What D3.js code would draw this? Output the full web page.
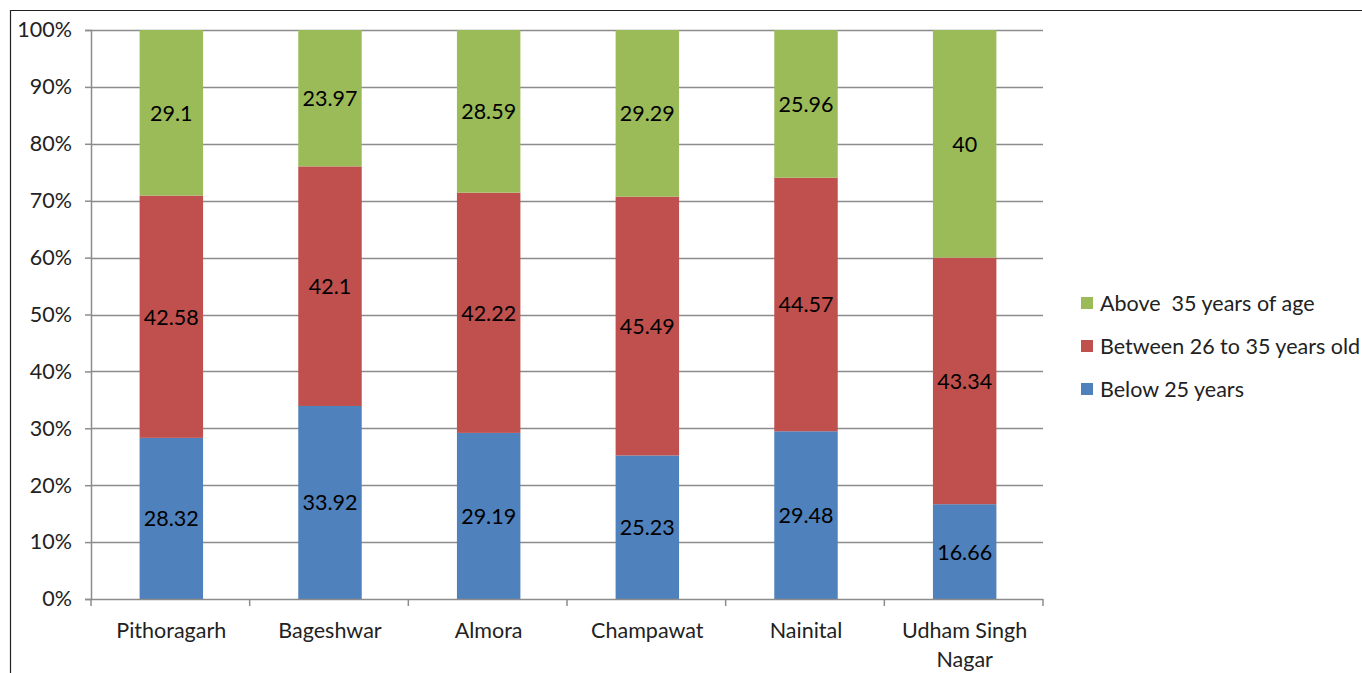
<!DOCTYPE html>
<html><head><meta charset="utf-8">
<script src="https://cdn.jsdelivr.net/npm/d3@7"></script>
<style>body{margin:0;background:#fff;}svg{display:block;font-family:Lato,"Open Sans",sans-serif;}text{white-space:pre;}</style>
</head><body>
<script>
const categories = ["Pithoragarh","Bageshwar","Almora","Champawat","Nainital","Udham Singh Nagar"];
const seriesNames = ["Below 25 years","Between 26 to 35 years old","Above  35 years of age"];
const below25 = [28.32,33.92,29.19,25.23,29.48,16.66];
const between26to35 = [42.58,42.1,42.22,45.49,44.57,43.34];
const above35 = [29.1,23.97,28.59,29.29,25.96,40];
const yTicks = [0,0.1,0.2,0.3,0.4,0.5,0.6,0.7,0.8,0.9,1];
const colors = ["#4F81BD","#C0504D","#9BBB59"];
const FS = 21.5;

const W=1362,H=673;
const svg=d3.select("body").append("svg").attr("width",W).attr("height",H);
svg.append("path").attr("d","M10.5,"+H+" V10.5 H"+W).attr("fill","none").attr("stroke","#222").attr("stroke-width",1.2);

const x=d3.scaleBand().domain(categories).range([91,1043]).paddingInner(0.6).paddingOuter(0.3);
const y=d3.scaleLinear().domain([0,1]).range([599,30]);

svg.append("g").selectAll("line").data(yTicks.slice(1)).join("line")
 .attr("x1",91).attr("x2",1043).attr("y1",d=>Math.round(y(d))+0.5).attr("y2",d=>Math.round(y(d))+0.5)
 .attr("stroke","#8c8c8c").attr("stroke-width",1.5);

const rows=categories.map((c,i)=>({cat:c,vals:[below25[i],between26to35[i],above35[i]]}));
const stackData=rows.map(r=>{const tot=d3.sum(r.vals);let acc=0;return r.vals.map((v,k)=>{const s={cat:r.cat,k,v,y0:acc/tot,y1:(acc+v)/tot};acc+=v;return s;});}).flat();

svg.append("g").selectAll("rect").data(stackData).join("rect")
 .attr("x",d=>x(d.cat)+1).attr("width",x.bandwidth())
 .attr("y",d=>y(d.y1)).attr("height",d=>y(d.y0)-y(d.y1))
 .attr("fill",d=>colors[d.k]);

svg.append("g").selectAll("text").data(stackData).join("text")
 .attr("x",d=>x(d.cat)+1+x.bandwidth()/2).attr("y",d=>y((d.y0+d.y1)/2))
 .attr("text-anchor","middle").attr("dominant-baseline","central")
 .attr("font-size",FS).attr("fill","#000").text(d=>d.v);

const yAxis=d3.axisLeft(y).tickValues(yTicks).tickFormat(d3.format(".0%")).tickSize(6).tickPadding(13);
const ga=svg.append("g").attr("transform","translate(91,0)").call(yAxis);
ga.select(".domain").attr("stroke","#8c8c8c").attr("stroke-width",1.5);
ga.selectAll(".tick line").attr("stroke","#8c8c8c").attr("stroke-width",1.5);
ga.selectAll("text").attr("font-size",FS).attr("fill","#222").attr("font-family","Lato,sans-serif");

const gx=svg.append("g").attr("transform","translate(0,599)");
gx.append("line").attr("x1",91).attr("x2",1043).attr("y1",0.5).attr("y2",0.5).attr("stroke","#8c8c8c").attr("stroke-width",1.5);
const bounds=categories.map(c=>x(c)-x.step()*x.paddingInner()/2).concat([1043]);
bounds[0]=91;
gx.selectAll("line.t").data(bounds).join("line").attr("class","t")
 .attr("x1",d=>d).attr("x2",d=>d).attr("y1",0).attr("y2",7).attr("stroke","#8c8c8c").attr("stroke-width",1.5);
const lab=gx.selectAll("text").data(categories).join("text")
 .attr("y",39).attr("text-anchor","middle")
 .attr("font-size",FS).attr("fill","#222");
lab.each(function(d){
 const t=d3.select(this);
 const parts=d==="Udham Singh Nagar"?["Udham Singh","Nagar"]:[d];
 parts.forEach((p,i)=>t.append("tspan").attr("x",x(d)+1+x.bandwidth()/2).attr("dy",i?29:0).text(p));
});

const leg=svg.append("g");
[2,1,0].forEach((k,i)=>{
 const yy=303+i*43;
 leg.append("rect").attr("x",1081).attr("y",yy-6).attr("width",12).attr("height",12).attr("fill",colors[k]);
 leg.append("text").attr("x",1100).attr("y",yy).attr("dominant-baseline","central").attr("font-size",FS).attr("fill","#222").text(seriesNames[k]);
});
</script>
</body></html>
